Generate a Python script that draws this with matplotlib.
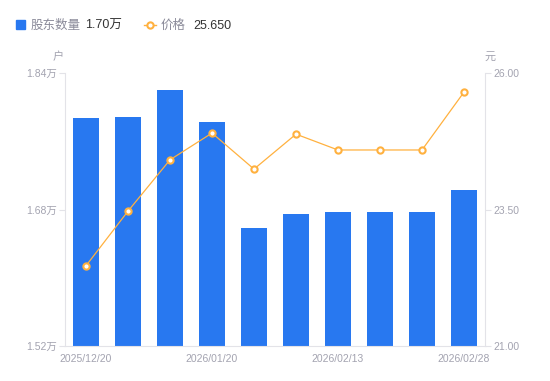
import matplotlib.pyplot as plt
from matplotlib.lines import Line2D
from matplotlib.patches import Rectangle

plt.rcParams['font.family'] = ['Liberation Sans', 'Noto Sans CJK SC', 'DejaVu Sans']

dates = ["2025/12/20", "2025/12/31", "2026/01/09", "2026/01/20", "2026/01/30",
         "2026/02/06", "2026/02/13", "2026/02/20", "2026/02/24", "2026/02/28"]
holders = [1.787, 1.788, 1.820, 1.783, 1.658, 1.675, 1.677, 1.677, 1.677, 1.703]  # 万户
price = [22.47, 23.47, 24.41, 24.90, 24.24, 24.88, 24.59, 24.59, 24.59, 25.65]

left_ticks = [1.52, 1.68, 1.84]
right_ticks = [21.0, 23.5, 26.0]

blue = "#2878F0"
orange = "#FFB13F"
grey = "#A3A3B0"
axis_grey = "#E3E3E8"

fig = plt.figure(figsize=(5.5, 3.81), dpi=100)
ax = fig.add_axes([65 / 550, 35 / 381, 420 / 550, 273 / 381])
x = list(range(len(dates)))

ax.bar(x, holders, width=0.6, color=blue, zorder=2)
ax.set_ylim(1.52, 1.84)
ax.set_xlim(-0.5, len(dates) - 0.5)
ax.set_yticks(left_ticks)
ax.set_yticklabels([f"{v:.2f}万" for v in left_ticks])
ax.set_xticks(x[::3])
ax.set_xticklabels(dates[::3])

ax2 = ax.twinx()
ax2.plot(x, price, color=orange, lw=0.9, marker="o", markersize=4.5,
         markerfacecolor="white", markeredgecolor=orange, markeredgewidth=1.5, zorder=3)
ax2.set_ylim(21, 26)
ax2.set_yticks(right_ticks)
ax2.set_yticklabels([f"{v:.2f}" for v in right_ticks])

for a in (ax, ax2):
    for s in a.spines.values():
        s.set_visible(False)
    a.tick_params(colors=axis_grey, labelcolor=grey, labelsize=7.5, length=4, width=0.8)
ax.spines["left"].set_visible(True)
ax.spines["left"].set_color(axis_grey)
ax.spines["bottom"].set_visible(True)
ax.spines["bottom"].set_color(axis_grey)
ax2.spines["right"].set_visible(True)
ax2.spines["right"].set_color(axis_grey)
ax.tick_params(axis="x", length=0, pad=6)
ax.tick_params(axis="y", pad=2)
ax2.tick_params(axis="y", pad=2)

fig.text(58 / 550, 1 - 57 / 381, "户", color=grey, fontsize=8, ha="center", va="center")
fig.text(490 / 550, 1 - 57 / 381, "元", color=grey, fontsize=8, ha="center", va="center")

# legend
ly = 1 - 25 / 381
fig.patches.append(Rectangle((16 / 550, 1 - 29 / 381), 9 / 550, 9 / 381,
                             transform=fig.transFigure, color=blue))
fig.text(31 / 550, 1 - 26 / 381, "股东数量", color="#8A8A99", fontsize=9, va="center")
fig.text(85 / 550, 1 - 26 / 381, "1.70万", color="#333333", fontsize=9, va="center")
fig.lines.append(Line2D([144 / 550, 156 / 550], [ly, ly],
                        transform=fig.transFigure, color=orange, lw=1))
fig.lines.append(Line2D([150 / 550], [ly], transform=fig.transFigure,
                        color=orange, marker="o", markersize=4.5,
                        markerfacecolor="white", markeredgewidth=1.5))
fig.text(161 / 550, 1 - 26 / 381, "价格", color="#8A8A99", fontsize=9, va="center")
fig.text(193 / 550, 1 - 26 / 381, "25.650", color="#333333", fontsize=9, va="center")

fig.savefig("out.png", dpi=100)
